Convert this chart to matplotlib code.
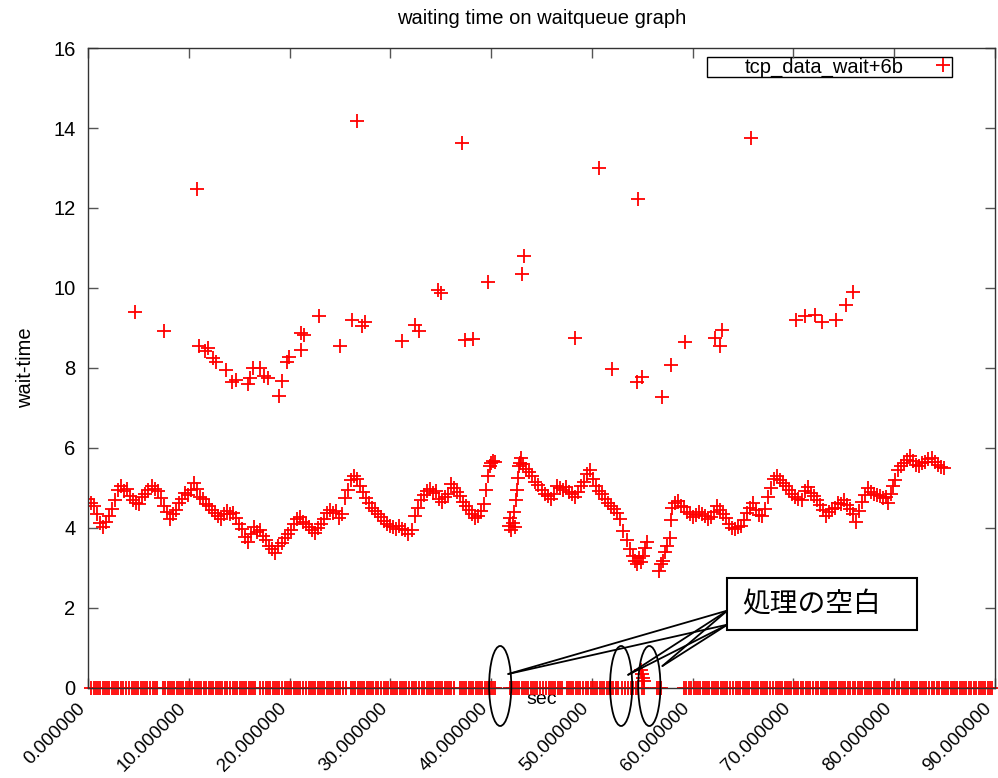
import matplotlib
matplotlib.use('Agg')
import matplotlib.pyplot as plt
from matplotlib.patches import Ellipse, Rectangle
from matplotlib.transforms import ScaledTranslation

plt.rcParams['font.family'] = ['Liberation Sans', 'DejaVu Sans']

# 待ち時間 (sec, wait-time)
wait_sec = [
    0.0, 0.3, 0.6, 0.9, 1.2, 1.5, 1.8, 2.1, 2.4, 2.7, 3.0, 3.3, 3.6, 3.9, 4.2, 4.5, 4.8, 5.1,
    5.4, 5.7, 6.0, 6.3, 6.6, 6.9, 7.2, 7.5, 7.8, 8.1, 8.4, 8.7, 9.0, 9.3, 9.6, 9.9,
    10.2, 10.5, 10.8, 11.1, 11.4, 11.7, 12.0, 12.3, 12.6, 12.9, 13.2, 13.5, 13.8, 14.1, 14.4,
    14.7, 15.0, 15.3, 15.6, 15.9, 16.2, 16.5, 16.8, 17.1, 17.4, 17.7, 18.0, 18.3, 18.6, 18.9,
    19.2, 19.5, 19.8, 20.1, 20.4, 20.7, 21.0, 21.3, 21.6, 21.9, 22.2, 22.5, 22.8, 23.1, 23.4,
    23.7, 24.0, 24.3, 24.6, 24.9, 25.2, 25.5, 25.8, 26.1, 26.4, 26.7, 27.0, 27.3, 27.6, 27.9,
    28.2, 28.5, 28.8, 29.1, 29.4, 29.7, 30.0, 30.3, 30.6, 30.9, 31.2, 31.5, 31.8, 32.1, 32.4,
    32.7, 33.0, 33.3, 33.6, 33.9, 34.2, 34.5, 34.8, 35.1, 35.4, 35.7, 36.0, 36.3, 36.6, 36.9,
    37.2, 37.5, 37.8, 38.1, 38.4, 38.7, 39.0, 39.3, 39.5, 39.7, 39.9, 40.0, 40.2, 40.4,
    41.8, 41.9, 42.0, 42.2, 42.3, 42.4, 42.5, 42.6, 42.7, 42.8, 42.9, 43.0, 43.2, 43.5,
    43.8, 44.1, 44.4, 44.7, 45.0, 45.3, 45.6, 45.9, 46.2, 46.5, 46.8, 47.1, 47.4, 47.7, 48.0,
    48.3, 48.6, 48.9, 49.2, 49.5, 49.8, 50.1, 50.4, 50.7, 51.0, 51.3, 51.6, 51.9, 52.2, 52.5,
    52.8, 53.1, 53.5, 53.8, 54.1, 54.3, 54.5, 54.7, 54.9, 55.1, 55.3, 55.5,
    56.7, 56.9, 57.1, 57.3, 57.5, 57.7, 57.8, 57.9, 58.2, 58.5, 58.8, 59.1, 59.4, 59.7, 60.0,
    60.3, 60.6, 60.9, 61.2, 61.5, 61.8, 62.1, 62.4, 62.7, 63.0, 63.3, 63.6, 63.9, 64.2, 64.5,
    64.8, 65.1, 65.4, 65.7, 66.0, 66.3, 66.6, 66.9, 67.2, 67.5, 67.8, 68.1, 68.4, 68.7, 69.0,
    69.3, 69.6, 69.9, 70.2, 70.5, 70.8, 71.1, 71.4, 71.7, 72.0, 72.3, 72.6, 72.9, 73.2, 73.5,
    73.8, 74.1, 74.4, 74.7, 75.0, 75.3, 75.6, 75.9, 76.2, 76.5, 76.8, 77.1, 77.4, 77.7, 78.0,
    78.3, 78.6, 78.9, 79.2, 79.4, 79.7, 79.9, 80.1, 80.4, 80.7, 81.0, 81.3, 81.6, 81.9, 82.2,
    82.5, 82.8, 83.1, 83.4, 83.7, 84.0, 84.3, 84.6, 84.9,
]
wait_val = [
    4.72, 4.62, 4.55, 4.35, 4.12, 4.02, 4.15, 4.30, 4.48, 4.70, 4.95, 5.05, 4.92, 4.98, 4.80, 4.70, 4.62, 4.60,
    4.78, 4.85, 4.95, 5.05, 4.98, 4.92, 4.75, 4.55, 4.40, 4.22, 4.35, 4.45, 4.62, 4.72, 4.88, 4.82,
    4.95, 5.12, 4.98, 4.78, 4.72, 4.60, 4.55, 4.45, 4.38, 4.30, 4.22, 4.35, 4.42, 4.35, 4.38,
    4.25, 4.10, 3.98, 3.78, 3.65, 3.85, 4.02, 3.90, 3.95, 3.80, 3.70, 3.55, 3.48, 3.38, 3.55,
    3.62, 3.75, 3.85, 3.95, 4.10, 4.22, 4.28, 4.15, 4.10, 4.02, 3.95, 3.88, 4.00, 4.10, 4.22,
    4.38, 4.45, 4.38, 4.42, 4.25, 4.35, 4.75, 4.95, 5.20, 5.30, 5.22, 5.05, 4.90, 4.75, 4.62,
    4.50, 4.42, 4.35, 4.28, 4.18, 4.10, 4.05, 4.02, 3.98, 4.05, 3.97, 3.95, 3.86, 3.95, 4.30,
    4.50, 4.70, 4.82, 4.92, 4.98, 4.88, 4.92, 4.72, 4.65, 4.78, 4.85, 5.10, 5.00, 4.90, 4.80,
    4.65, 4.55, 4.45, 4.35, 4.25, 4.30, 4.42, 4.60, 4.95, 5.30, 5.55, 5.62, 5.68, 5.65,
    4.05, 4.25, 3.95, 4.12, 4.40, 4.02, 4.70, 4.95, 5.25, 5.55, 5.63, 5.75, 5.60, 5.48,
    5.40, 5.30, 5.15, 5.08, 4.95, 4.85, 4.80, 4.72, 4.85, 5.05, 5.00, 4.95, 5.02, 4.90, 4.85,
    4.78, 4.90, 5.05, 5.15, 5.35, 5.45, 5.22, 5.05, 4.92, 4.85, 4.72, 4.62, 4.55, 4.48, 4.38,
    4.22, 3.92, 3.70, 3.48, 3.30, 3.18, 3.10, 3.25, 3.15, 3.30, 3.50, 3.65,
    2.92, 3.10, 3.18, 3.40, 3.55, 3.75, 4.20, 4.50, 4.62, 4.68, 4.55, 4.52, 4.40, 4.35, 4.28,
    4.32, 4.40, 4.35, 4.30, 4.22, 4.28, 4.40, 4.55, 4.45, 4.35, 4.25, 4.10, 4.00, 3.98, 4.02,
    4.05, 4.20, 4.38, 4.50, 4.62, 4.45, 4.32, 4.30, 4.48, 4.78, 5.00, 5.22, 5.30, 5.20, 5.12,
    5.05, 4.95, 4.85, 4.78, 4.72, 4.70, 4.92, 5.02, 4.88, 4.80, 4.70, 4.58, 4.45, 4.30, 4.40,
    4.48, 4.50, 4.62, 4.60, 4.70, 4.58, 4.48, 4.35, 4.15, 4.42, 4.65, 4.82, 5.00, 4.90, 4.85,
    4.82, 4.80, 4.75, 4.78, 4.62, 4.85, 5.05, 5.20, 5.45, 5.55, 5.62, 5.70, 5.80, 5.68, 5.58,
    5.55, 5.62, 5.65, 5.72, 5.75, 5.65, 5.58, 5.52, 5.50,
]

# 外れ値
spike_sec = [4.7, 7.5, 10.8, 11.0, 11.6, 11.9, 12.4, 12.7, 13.7, 14.3, 14.7, 15.9, 16.1, 16.4,
             17.1, 17.5, 17.9, 19.0, 19.2, 19.7, 19.9, 21.1, 21.1, 21.4, 22.9, 25.0, 26.2, 26.7,
             27.2, 27.5, 31.2, 32.4, 32.8, 34.7, 35.0, 37.1, 37.4, 38.2, 39.7, 43.1, 43.3, 48.3,
             50.7, 52.0, 54.6, 54.5, 55.0, 57.0, 57.8, 59.2, 62.2, 62.7, 62.9, 65.8, 70.3, 71.1,
             72.1, 72.8, 74.2, 75.2, 75.9, 54.9, 55.0, 55.1, 55.2]
spike_val = [9.40, 8.93, 12.48, 8.55, 8.43, 8.50, 8.25, 8.15, 7.95, 7.65, 7.70, 7.60, 7.75, 8.00,
             8.00, 7.80, 7.75, 7.30, 7.67, 8.15, 8.28, 8.45, 8.88, 8.83, 9.30, 8.55, 9.20, 14.18,
             9.05, 9.15, 8.68, 9.08, 8.93, 9.95, 9.88, 13.63, 8.70, 8.73, 10.15, 10.35, 10.80, 8.75,
             13.00, 7.98, 12.23, 7.65, 7.78, 7.28, 8.08, 8.65, 8.75, 8.55, 8.95, 13.75, 9.20, 9.30,
             9.33, 9.15, 9.20, 9.58, 9.90, 0.45, 0.35, 0.25, 0.18]

# 待ち時間ゼロのサンプル
zero_sec_a = [
    0.3, 0.8, 1.2, 1.7, 2.1, 2.6, 3.0, 3.5, 4.1, 4.6, 5.0, 5.5, 5.9, 6.4, 6.8, 7.4, 7.9, 8.3, 8.8, 9.2, 9.7,
    10.1, 10.6, 11.0, 11.5, 12.0, 12.4, 12.9, 13.3, 13.8, 14.4, 14.8, 15.3, 15.7, 16.2, 16.6, 17.1, 17.7,
    18.1, 18.6, 19.0, 19.5, 19.9, 20.4, 20.8, 21.3, 21.9, 22.3, 22.8, 23.2, 23.7, 24.1, 24.6, 25.0, 25.6,
    26.1, 26.5, 27.0, 27.4, 27.9, 28.3, 28.8, 29.4, 29.8, 30.3, 30.7, 31.2, 31.6, 32.1, 32.5, 33.1, 33.6,
    34.0, 34.5, 34.9, 35.4, 35.8, 36.3, 36.9, 37.3, 37.8, 38.2, 38.7, 39.1, 39.6, 40.0, 40.4,
    41.9, 42.4, 42.8, 43.3, 43.7, 44.2, 44.6, 45.1, 45.7, 46.1, 46.6, 47.0, 47.5, 47.9, 48.4, 48.8, 49.4,
    49.9, 50.3, 50.8, 51.2, 51.7, 52.1, 52.6, 53.0, 53.6, 54.1, 54.6, 55.2, 56.5, 56.9, 59.1, 59.6,
    60.1, 60.5, 61.0, 61.4, 61.9, 62.3, 62.8, 63.2, 63.7, 64.3, 64.7, 65.2, 65.6, 66.1, 66.5, 67.0, 67.4,
    68.0, 68.5, 68.9, 69.4, 69.8, 70.3, 70.7, 71.2, 71.6, 72.2, 72.7, 73.1, 73.6, 74.0, 74.5, 74.9, 75.4,
    75.9, 76.4, 76.8, 77.3, 77.7, 78.2, 78.6, 79.1, 79.5, 80.0, 80.5, 81.0, 81.4, 81.9, 82.3, 82.8, 83.2,
    83.7, 84.2, 84.7, 85.1, 85.6, 86.0, 86.5, 86.9, 87.4, 87.9, 88.4, 88.8, 89.3, 89.7,
]
zero_sec_b = [
    0.55, 1.0, 1.45, 1.9, 2.35, 2.8, 3.25, 3.8, 4.35, 4.8, 5.25, 5.7, 6.15, 6.6, 7.65, 8.1, 8.55, 9.0,
    9.45, 9.9, 10.35, 10.8, 11.25, 11.75, 12.2, 12.65, 13.1, 13.55, 14.1, 14.6, 15.05, 15.5, 15.95, 16.4,
    17.4, 17.9, 18.35, 18.8, 19.25, 19.7, 20.15, 20.6, 21.05, 21.6, 22.1, 22.55, 23.0, 23.45, 23.9,
    24.35, 24.8, 25.3, 26.3, 26.75, 27.2, 27.65, 28.1, 28.55, 29.1, 29.6, 30.05, 30.5, 30.95, 31.4,
    31.85, 32.3, 32.8, 33.35, 33.8, 34.25, 34.7, 35.15, 35.6, 36.05, 37.1, 37.55, 38.0, 38.45, 38.9,
    39.35, 39.8, 40.2, 42.15, 42.6, 43.05, 43.5, 43.95, 44.4, 44.85, 45.4, 45.9, 46.35, 46.8, 47.7,
    48.15, 48.6, 49.1, 49.65, 50.1, 50.55, 51.0, 51.45, 51.9, 52.35, 53.3, 53.85, 54.35, 55.0, 56.7,
    59.35, 59.85, 60.3, 60.75, 61.2, 61.65, 62.1, 62.55, 63.0, 63.45, 64.0, 64.5, 64.95, 65.4, 65.85,
    66.3, 66.75, 67.2, 67.7, 68.25, 68.7, 69.15, 69.6, 70.05, 70.5, 70.95, 71.4, 71.9, 72.45, 72.9,
    73.35, 73.8, 74.25, 74.7, 75.15, 75.65, 76.15, 76.6, 77.05, 77.5, 77.95, 78.4, 78.85, 79.3, 79.75,
    80.25, 80.75, 81.2, 81.65, 82.1, 82.55, 83.0, 83.45, 83.95, 84.45, 84.9, 85.35, 85.8, 86.25, 86.7,
    87.15, 87.65, 88.15, 88.6, 89.05, 89.5,
]
zero_sec = zero_sec_a + zero_sec_b
zero_val = [0.0] * len(zero_sec)

# 処理の空白 (sec)
gap_sec = [40.9, 52.9, 55.7]

fig = plt.figure(figsize=(9.98, 7.78), dpi=100)
ax = fig.add_axes([0.0882, 0.1157, 0.9088, 0.8226])

mk = dict(linestyle='none', marker='+', color='#ff0000', markersize=9.5, markeredgewidth=1.3)
ax.plot(wait_sec, wait_val, label='tcp_data_wait+6b', **mk)
ax.plot(spike_sec, spike_val, **mk)
ax.plot(zero_sec, zero_val, clip_on=False, **mk)

ax.set_xlim(0, 90)
ax.set_ylim(0, 16)
ax.set_xticks(range(0, 91, 10))
ax.set_xticklabels(['%.6f' % v for v in range(0, 91, 10)], rotation=45,
                   ha='right', va='center', rotation_mode='anchor')
ax.set_yticks(range(0, 17, 2))
ax.tick_params(direction='in', length=7, width=1, color='#555555',
               top=True, right=True, labelsize=14.5, pad=9)
ax.tick_params(axis='x', pad=13, labelsize=13.5)
# 斜めのラベルを少し左へ
shift = ScaledTranslation(-4 / 72, 0, fig.dpi_scale_trans)
for lbl in ax.get_xticklabels():
    lbl.set_transform(lbl.get_transform() + shift)
for s in ax.spines.values():
    s.set_color('#333333')
    s.set_linewidth(1)

ax.set_title('waiting time on waitqueue graph', fontsize=14.5, pad=17)
ax.set_xlabel('sec', fontsize=14)
ax.xaxis.set_label_coords(0.5, -0.004)
ax.set_ylabel('wait-time', fontsize=14.5)
ax.yaxis.set_label_coords(-0.058, 0.5)

# 凡例 (枠は別に描く)
ax.add_patch(Rectangle((0.682, 0.955), 0.271, 0.031, transform=ax.transAxes,
                       fill=False, edgecolor='black', linewidth=1, clip_on=False))
ax.legend(loc='center right', bbox_to_anchor=(0.953, 0.9705), markerfirst=False,
          frameon=False, fontsize=14.5, handlelength=0.7, handletextpad=1.6,
          borderpad=0.1, borderaxespad=0)

# 空白区間の楕円
for g in gap_sec:
    ax.add_patch(Ellipse((g, 0.05), 2.2, 2.0, fill=False, edgecolor='black',
                         linewidth=1.3, clip_on=False, zorder=5))

# 吹き出し: 楕円から枠の左端へ2本ずつ
targets = [(gap_sec[0] + 0.8, 0.35), (gap_sec[1] + 0.7, 0.33), (gap_sec[2] + 1.3, 0.55)]
for tx, ty in targets:
    for fy in (0.121, 0.099):
        ax.annotate('', xy=(tx, ty), xytext=(0.705, fy), textcoords='axes fraction',
                    annotation_clip=False, zorder=6,
                    arrowprops=dict(arrowstyle='-', color='black', lw=1.3,
                                    shrinkA=0, shrinkB=0))

ax.add_patch(Rectangle((0.7045, 0.0906), 0.2095, 0.0814, transform=ax.transAxes,
                       facecolor='white', edgecolor='black', linewidth=1.5, zorder=7))
ax.text(0.798, 0.131, '処理の空白', transform=ax.transAxes, ha='center', va='center',
        fontsize=20, family=['Noto Sans CJK JP', 'DejaVu Sans'], zorder=8)

fig.savefig('out.png', dpi=100)
